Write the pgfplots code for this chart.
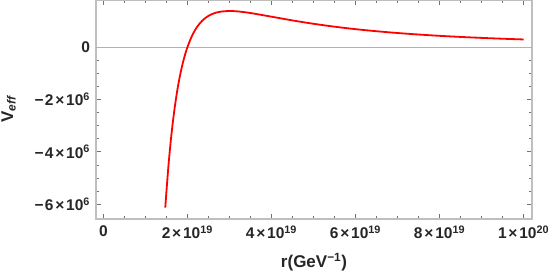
\documentclass[border=0pt]{standalone}
\usepackage{fontspec}
\setmainfont{Liberation Sans}
\usepackage{pgfplots}
\pgfplotsset{compat=1.18}
\newcommand{\tx}{\hspace{1.8pt}×\hspace{1.8pt}}
\newcommand{\mn}{−\hspace{1.2pt}}
\begin{document}
\begin{tikzpicture}[x=1pt,y=1pt]
\path[use as bounding box] (-96,-57) rectangle (458,219);
\begin{axis}[at={(0,0)}, anchor=south west, scale only axis,
  width=436pt, height=219pt,
  xmin=-0.174e19, xmax=10.2e19, ymin=-6.57e6, ymax=1.81e6,
  scaled x ticks=false, scaled y ticks=false,
  xtick={0,2e19,4e19,6e19,8e19,1e20},
  xticklabels={0, 2\tx10\textsuperscript{19}, 4\tx10\textsuperscript{19}, 6\tx10\textsuperscript{19}, 8\tx10\textsuperscript{19}, 1\tx10\textsuperscript{20}},
  ytick={-6e6,-4e6,-2e6,0},
  yticklabels={\mn6\tx10\textsuperscript{6}, \mn4\tx10\textsuperscript{6}, \mn2\tx10\textsuperscript{6}, 0},
  minor x tick num=3, minor y tick num=3,
  tick align=inside,
  major tick length=5pt, minor tick length=3pt,
  axis line style={draw=black!25, line width=1.2pt},
  tick style={draw=black!55, line width=0.8pt},
  ticklabel style={font=\bfseries\fontsize{15.5}{15.5}\selectfont, text=black!85},
  xticklabel style={yshift=-3pt},
  yticklabel style={xshift=-2.5pt},
  xlabel={r(GeV\textsuperscript{−1})},
  ylabel={V\textsubscript{\itshape eff}},
  label style={font=\bfseries\fontsize{17}{17}\selectfont, text=black!85},
  xlabel style={yshift=-8pt},
  ylabel style={yshift=12pt},
  clip=true,
]
\addplot[black!30, line width=0.6pt] coordinates {(-0.174e19,0) (10.2e19,0)};
\addplot[red, line width=1.8pt, smooth] coordinates {
(1.475e19,-6.134e6) (1.5e19,-5.556e6) (1.55e19,-4.531e6) (1.6e19,-3.662e6)
(1.65e19,-2.922e6) (1.7e19,-2.290e6) (1.75e19,-1.749e6) (1.8e19,-1.286e6)
(1.85e19,-0.888e6) (1.9e19,-0.547e6) (1.95e19,-0.253e6) (2.0e19,0)
(2.1e19,0.405e6) (2.2e19,0.704e6) (2.3e19,0.925e6) (2.4e19,1.085e6)
(2.5e19,1.200e6) (2.6e19,1.280e6) (2.7e19,1.334e6) (2.8e19,1.366e6)
(3.0e19,1.389e6) (3.2e19,1.373e6) (3.5e19,1.312e6) (4.0e19,1.172e6)
(4.5e19,1.029e6) (5.0e19,0.900e6) (5.5e19,0.789e6) (6.0e19,0.694e6)
(6.5e19,0.615e6) (7.0e19,0.547e6) (7.5e19,0.489e6) (8.0e19,0.439e6)
(8.5e19,0.397e6) (9.0e19,0.360e6) (9.5e19,0.328e6) (10.0e19,0.300e6)
};
\end{axis}
\end{tikzpicture}
\end{document}
